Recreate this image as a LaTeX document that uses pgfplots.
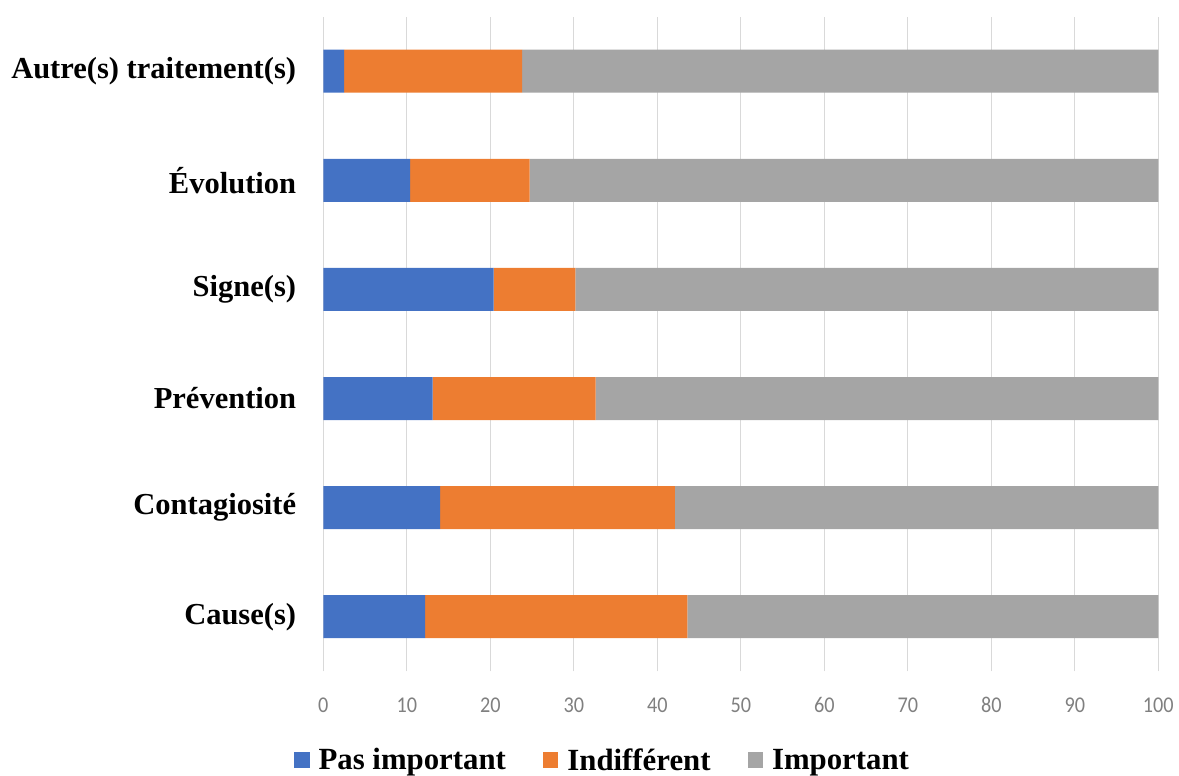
\documentclass[border=0pt]{standalone}
\usepackage{fontspec}
\setmainfont{Liberation Serif}
\newfontfamily\tickfont[FakeStretch=0.9]{Carlito}
\usepackage{pgfplots}
\pgfplotsset{compat=1.18}
\definecolor{cblue}{HTML}{4472C4}
\definecolor{corange}{HTML}{ED7D31}
\definecolor{cgray}{HTML}{A5A5A5}
\definecolor{gridc}{HTML}{D9D9D9}
\definecolor{tickc}{HTML}{808080}
\begin{document}
\begin{tikzpicture}
\useasboundingbox (0,0) rectangle (1179pt,776pt);
\begin{axis}[
  at={(323.3pt,104.7pt)}, anchor=south west,
  scale only axis, width=835pt, height=654.7pt,
  xbar stacked, bar width=43pt,
  xmin=0, xmax=100, ymin=-0.5, ymax=5.5,
  xtick={0,10,...,100}, ytick={0,1,2,3,4,5},
  yticklabels={Cause(s),Contagiosité,Prévention,Signe(s),Évolution,Autre(s) traitement(s)},
  axis line style={draw=none},
  major tick length=0pt,
  xmajorgrids, ymajorgrids=false,
  major grid style={draw=gridc, line width=1.2pt},
  xticklabel style={font=\tickfont\fontsize{22.5}{26}\selectfont, text=tickc, anchor=center, yshift=-33.7pt},
  /pgf/number format/assume math mode=true,
  yticklabel style={font=\fontsize{30.5}{36}\selectfont\bfseries, anchor=east, inner sep=0pt, xshift=-27pt},
  legend columns=3,
  legend style={draw=none, at={(0.3344,-0.1355)}, anchor=center,
    font=\fontsize{30.8}{36}\selectfont\bfseries,
    /tikz/every odd column/.append style={column sep=7pt},
    /tikz/every even column/.append style={column sep=35pt},
    inner sep=0pt},
  legend image code/.code={\fill[#1] (0pt,-7.5pt) rectangle (15.5pt,8pt);},
]
\addplot[fill=cblue, draw=none] coordinates {(12.2,0) (14.0,1) (13.1,2) (20.4,3) (10.4,4) (2.5,5)};
\addplot[fill=corange, draw=none] coordinates {(31.4,0) (28.1,1) (19.5,2) (9.8,3) (14.3,4) (21.3,5)};
\addplot[fill=cgray, draw=none] coordinates {(56.4,0) (57.9,1) (67.4,2) (69.8,3) (75.3,4) (76.2,5)};
\legend{Pas important, Indifférent, Important}
\end{axis}
\end{tikzpicture}
\end{document}
